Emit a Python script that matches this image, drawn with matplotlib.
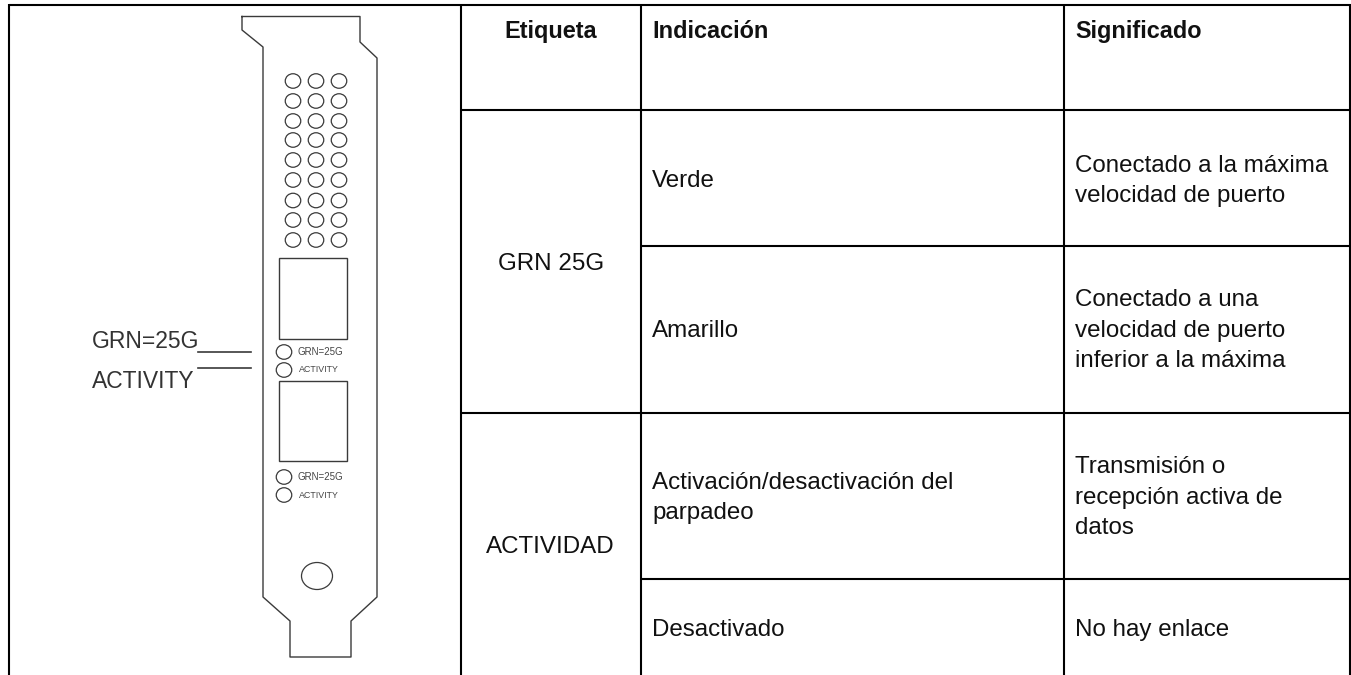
# Bracket diagram and LED table, drawn in pixel coordinates of the 1351x675 page

import matplotlib.pyplot as plt
from matplotlib.patches import Ellipse, Rectangle

plt.rcParams["font.family"] = ["Liberation Sans", "DejaVu Sans"]

# ── Table text ────────────────────────────────────────────────────────────────
header_labels = ["Etiqueta", "Indicación", "Significado"]
label_cells = ["GRN 25G", "ACTIVIDAD"]
indication_cells = [
    "Verde",
    "Amarillo",
    "Activación/desactivación del\nparpadeo",
    "Desactivado",
]
meaning_cells = [
    "Conectado a la máxima\nvelocidad de puerto",
    "Conectado a una\nvelocidad de puerto\ninferior a la máxima",
    "Transmisión o\nrecepción activa de\ndatos",
    "No hay enlace",
]

# ── Diagram text ──────────────────────────────────────────────────────────────
callout_labels = ["GRN=25G", "ACTIVITY"]
led_labels = ["GRN=25G", "ACTIVITY"]

# ── Geometry (pixels) ─────────────────────────────────────────────────────────
bracket_x = [242, 360, 360, 377, 377, 351, 351, 290, 290, 263, 263, 242, 242]
bracket_y = [16.5, 16.5, 42, 58, 597, 621, 657, 657, 621, 597, 47, 30, 16.5]
hole_cols = [293, 316, 339]
hole_rows = [81, 101, 121, 140, 160, 180, 200.5, 220, 240]
port_tops = [258, 381]
port_bottoms = [339, 461]
led_rows = [352, 370, 477, 495]

row_edges = [110, 246, 413, 579]
col_edges = [461, 641, 1064]
# baseline of the last line in each cell
indication_y = [187, 337, 519, 636]
meaning_y = [202, 367, 534, 636]

LINE = "#3a3a3a"
INK = "#111111"

fig = plt.figure(figsize=(13.51, 6.75), dpi=100)
ax = fig.add_axes([0, 0, 1, 1])
ax.set_xlim(0, 1351)
ax.set_ylim(675, 0)
ax.axis("off")

# ── Table grid ────────────────────────────────────────────────────────────────
GRID = {"color": "black", "lw": 1.5, "solid_capstyle": "butt"}
ax.plot([8.5, 1350.5], [5, 5], **GRID)
ax.plot([8.5, 8.5], [4, 675], **GRID)
ax.plot([1349.5, 1349.5], [4, 675], **GRID)
for x in col_edges:
    ax.plot([x, x], [5, 675], **GRID)
ax.plot([461, 1350], [row_edges[0]] * 2, **GRID)
ax.plot([641, 1350], [row_edges[1]] * 2, **GRID)
ax.plot([461, 1350], [row_edges[2]] * 2, **GRID)
ax.plot([641, 1350], [row_edges[3]] * 2, **GRID)

# ── Table text ────────────────────────────────────────────────────────────────
TEXT_SIZE = 17.4
HEAD_SIZE = 16.9
LINE_SPACING = 1.49
HEAD = {"fontsize": HEAD_SIZE, "fontweight": "bold", "va": "baseline", "color": INK}
ax.text(550.5, 38, header_labels[0], ha="center", **HEAD)
ax.text(652, 38, header_labels[1], ha="left", **HEAD)
ax.text(1075, 38, header_labels[2], ha="left", **HEAD)

ax.text(551, 270, label_cells[0], fontsize=TEXT_SIZE, ha="center", va="baseline", color=INK)
ax.text(550, 553, label_cells[1], fontsize=TEXT_SIZE, ha="center", va="baseline", color=INK)

for text, y in zip(indication_cells, indication_y):
    ax.text(652, y, text, fontsize=TEXT_SIZE, ha="left", va="baseline", color=INK, linespacing=LINE_SPACING)
for text, y in zip(meaning_cells, meaning_y):
    ax.text(1075, y, text, fontsize=TEXT_SIZE, ha="left", va="baseline", color=INK, linespacing=LINE_SPACING)

# ── Bracket outline ───────────────────────────────────────────────────────────
ax.plot(bracket_x, bracket_y, color=LINE, lw=1.0)

for y in hole_rows:
    for x in hole_cols:
        ax.add_patch(Ellipse((x, y), 15.5, 14.5, fill=False, ec=LINE, lw=0.9))

for top, bottom in zip(port_tops, port_bottoms):
    ax.add_patch(Rectangle((279, top), 68, bottom - top, fill=False, ec=LINE, lw=1.0))

for i, y in enumerate(led_rows):
    ax.add_patch(Ellipse((284, y), 15.5, 14.5, fill=False, ec=LINE, lw=0.9))
    ax.text(298 if i % 2 == 0 else 299, y, led_labels[i % 2], fontsize=7.0 if i % 2 == 0 else 6.4,
            ha="left", va="center", color="#444444")

ax.add_patch(Ellipse((317, 576), 31, 27, fill=False, ec=LINE, lw=0.9))

# ── Callouts ──────────────────────────────────────────────────────────────────
ax.text(92, 342, callout_labels[0], fontsize=16.5, ha="left", va="center", color="#333333")
ax.text(92, 382, callout_labels[1], fontsize=16.5, ha="left", va="center", color="#333333")
ax.plot([198, 251], [352, 352], color=LINE, lw=1.2)
ax.plot([198, 251], [368, 368], color=LINE, lw=1.2)

fig.savefig("out.png", dpi=100)
plt.close(fig)
